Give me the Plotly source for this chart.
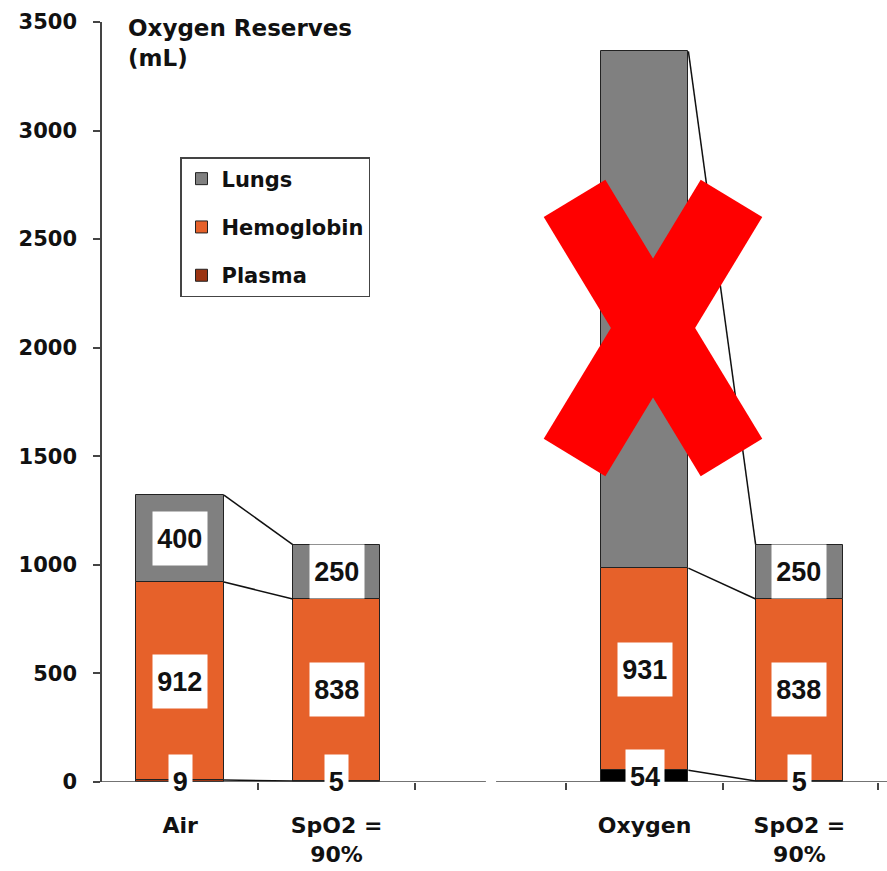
import plotly.graph_objects as go

# Oxygen reserves (mL) by compartment, breathing air vs. oxygen, and after desaturation to SpO2 = 90%
categories = ["Air", "SpO2 =<br>90%", "Oxygen", "SpO2 =<br>90%"]
plasma = [9, 5, 54, 5]
hemoglobin = [912, 838, 931, 838]
lungs = [400, 250, 2380, 250]
lung_labels = ["400", "250", "", "250"]
y_ticks = [0, 500, 1000, 1500, 2000, 2500, 3000, 3500]

# horizontal slot of each bar (two panels sharing one value axis)
x_pos = [0, 1, 2.97, 3.96]
bar_w = 0.56
pairs = [(0, 1), (2, 3)]
# separator ticks on the category axis
sep_ticks = [0.5, 1.5, 2.47, 3.47, 4.46]

GRAY = "#808080"
ORANGE = "#E6612A"
BROWN = "#9B3412"
AXIS = "#444444"
BOLD = "DejaVu Sans"

fig = go.Figure()

plasma_colors = ["#000000" if c == "Oxygen" else BROWN for c in categories]
fig.add_bar(x=x_pos, y=lungs, name="Lungs", width=bar_w, visible=True,
            marker=dict(color=GRAY, line=dict(color="#222", width=1)),
            legendgroup="l", cliponaxis=False, base=[p + h for p, h in zip(plasma, hemoglobin)])
fig.add_bar(x=x_pos, y=hemoglobin, name="Hemoglobin", width=bar_w,
            marker=dict(color=ORANGE, line=dict(color="#222", width=1)),
            legendgroup="h", cliponaxis=False, base=plasma)
fig.add_bar(x=x_pos, y=plasma, name="Plasma", width=bar_w,
            marker=dict(color=plasma_colors, line=dict(color="#222", width=1)),
            legendgroup="p", cliponaxis=False, base=0)

# connector lines between each bar and its desaturated counterpart
cx, cy = [], []
for a, b in pairs:
    ca = [plasma[a], plasma[a] + hemoglobin[a], plasma[a] + hemoglobin[a] + lungs[a]]
    cb = [plasma[b], plasma[b] + hemoglobin[b], plasma[b] + hemoglobin[b] + lungs[b]]
    for va, vb in zip(ca, cb):
        cx += [x_pos[a] + bar_w / 2, x_pos[b] - bar_w / 2, None]
        cy += [va, vb, None]
fig.add_scatter(x=cx, y=cy, mode="lines", line=dict(color="#111", width=1.5),
                showlegend=False, hoverinfo="skip", cliponaxis=False)

# carrier for the separator-tick axis
fig.add_scatter(x=sep_ticks, y=[0] * len(sep_ticks), xaxis="x2", mode="markers",
                marker=dict(size=1, opacity=0), showlegend=False, hoverinfo="skip")

# value labels in white boxes
annotations = []
def label(x, y, text):
    annotations.append(dict(
        x=x, y=y, xref="x", yref="y", text=text, showarrow=False,
        font=dict(family="Liberation Sans", size=27, color="#111", weight="bold"),
        bgcolor="white", borderpad=0, width=7 + 15.5 * len(text), height=53,
        xanchor="center", yanchor="middle"))

for i, x in enumerate(x_pos):
    label(x, plasma[i] / 2, str(plasma[i]))
    label(x, plasma[i] + hemoglobin[i] / 2, str(hemoglobin[i]))
    if lung_labels[i]:
        label(x, plasma[i] + hemoglobin[i] + lungs[i] / 2, lung_labels[i])

annotations.append(dict(
    xref="paper", yref="paper", x=0.031, y=1.012, xanchor="left", yanchor="top",
    text="Oxygen Reserves<br>(mL)", align="left", showarrow=False,
    font=dict(family=BOLD, size=23, color="#111", weight="bold")))

# broken category axis line
shapes = []
for x0, x1 in [(-0.5, 1.955), (2.02, 4.52)]:
    shapes.append(dict(type="line", xref="x", yref="y", x0=x0, x1=x1, y0=0, y1=0,
                       line=dict(color=AXIS, width=1.5), layer="above"))

# red cross over the oxygen bar, built from two rotated bars
W, H = 887, 871
L, R, T, B = 102, 0, 22, 89
def to_paper(px, py):
    return (px - L) / (W - L - R), (H - B - py) / (H - B - T)

cxp, cyp = 653, 328
half_len, half_w = 151.5, 36
for dx in (0.518, -0.518):
    dy = 0.855
    nx, ny = dy, -dx
    pts = []
    for s, t in [(-1, 1), (-1, -1), (1, -1), (1, 1)]:
        px = cxp + s * half_len * dx + t * half_w * nx
        py = cyp + s * half_len * dy + t * half_w * ny
        pts.append(to_paper(px, py))
    path = "M " + " L ".join(f"{p[0]:.4f},{p[1]:.4f}" for p in pts) + " Z"
    shapes.append(dict(type="path", xref="paper", yref="paper", path=path,
                       fillcolor="#FF0000", line=dict(width=0), layer="above"))

fig.update_layout(
    width=W, height=H, autosize=False,
    margin=dict(l=L, r=R, t=T, b=B, pad=0),
    paper_bgcolor="white", plot_bgcolor="white",
    barmode="overlay", bargap=0,
    showlegend=True,
    legend=dict(x=(180 - L) / (W - L - R), y=(H - B - 157) / (H - B - T),
                xanchor="left", yanchor="top",
                traceorder="grouped", tracegroupgap=18,
                entrywidth=155, entrywidthmode="pixels",
                bgcolor="white", bordercolor=AXIS, borderwidth=1.5,
                font=dict(family=BOLD, size=21, color="#111", weight="bold")),
    xaxis=dict(range=[-0.5, 4.52], tickvals=x_pos, ticktext=categories, ticks="",
               showline=False, showgrid=False, zeroline=False,
               ticklabelstandoff=28,
               tickfont=dict(family=BOLD, size=22, color="#111", weight="bold")),
    xaxis2=dict(range=[-0.5, 4.52], overlaying="x", anchor="y", side="bottom",
                tickvals=sep_ticks, ticks="outside", ticklen=7, tickwidth=1.5,
                tickcolor=AXIS, showticklabels=False, showline=False,
                showgrid=False, zeroline=False),
    yaxis=dict(range=[0, 3500], tickvals=y_ticks, ticks="outside", ticklen=7,
               tickwidth=1.5, tickcolor=AXIS, showline=True, linecolor=AXIS,
               linewidth=1.5, showgrid=False, zeroline=False,
               ticklabelstandoff=12,
               tickfont=dict(family=BOLD, size=21, color="#111", weight="bold")),
    annotations=annotations,
    shapes=shapes,
)

fig.write_html("out.html")
